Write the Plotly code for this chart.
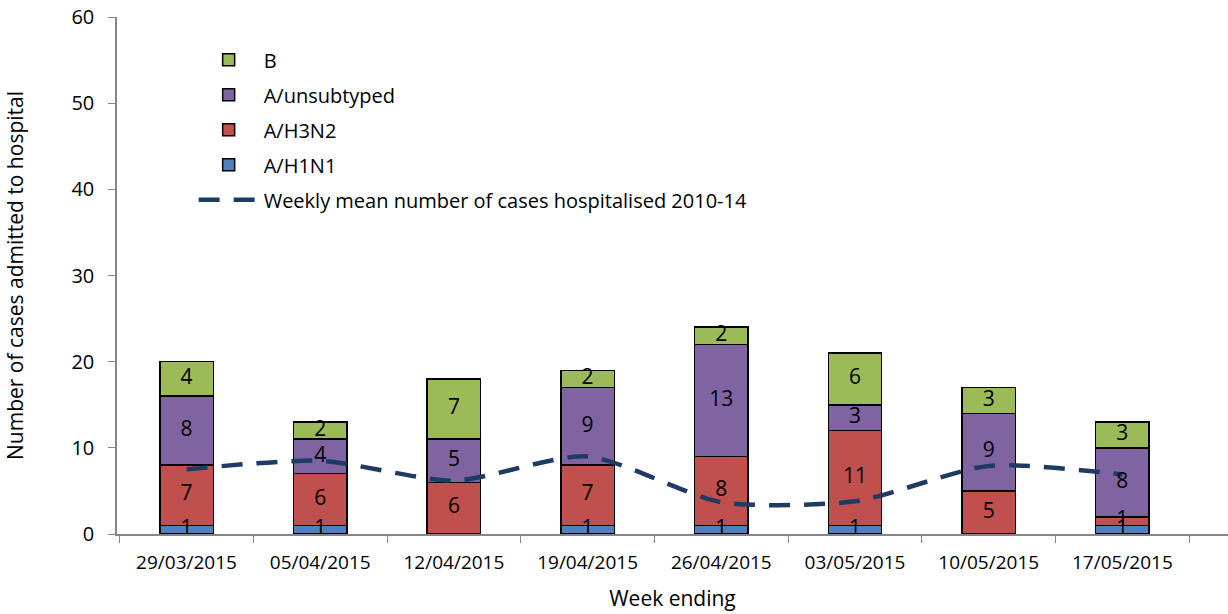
import plotly.graph_objects as go

weeks = ["29/03/2015", "05/04/2015", "12/04/2015", "19/04/2015",
         "26/04/2015", "03/05/2015", "10/05/2015", "17/05/2015"]
h1n1 = [1, 1, 0, 1, 1, 1, 0, 1]
h3n2 = [7, 6, 6, 7, 8, 11, 5, 1]
unsub = [8, 4, 5, 9, 13, 3, 9, 8]
flu_b = [4, 2, 7, 2, 2, 6, 3, 3]
mean_2010_14 = [7.5, 8.5, 6.2, 9.0, 3.7, 3.8, 7.9, 6.9]

FONT = "Open Sans"

fig = go.Figure()
series = [
    ("A/H1N1", h1n1, "#4F81BD", 4),
    ("A/H3N2", h3n2, "#C0504D", 3),
    ("A/unsubtyped", unsub, "#8064A2", 2),
    ("B", flu_b, "#9BBB59", 1),
]
for name, vals, col, rank in series:
    fig.add_trace(go.Bar(
        x=weeks, y=vals, name=name, marker=dict(color=col, line=dict(color="black", width=1.5)),
        textposition="none", legendrank=rank, legendgroup=name, width=0.4,
    ))

fig.add_trace(go.Scatter(
    x=weeks, y=mean_2010_14, name="Weekly mean number of cases hospitalised 2010-14",
    mode="lines", line=dict(color="#1F3B64", width=4.5, dash="21px,14px", shape="spline", smoothing=0.7),
    legendrank=5, legendgroup="mean",
))

# data labels, centred in each stacked segment, drawn on top of the bars
lab_x, lab_y, lab_t = [], [], []
for i, w in enumerate(weeks):
    base = 0
    for _, vals, _, _ in series:
        v = vals[i]
        if v:
            lab_x.append(w)
            lab_y.append(base + v / 2)
            lab_t.append(str(v))
        base += v
fig.add_trace(go.Scatter(
    x=lab_x, y=lab_y, text=lab_t, mode="text", showlegend=False, hoverinfo="skip",
    textfont=dict(size=21, color="black", family=FONT), cliponaxis=False,
))

fig.update_layout(
    barmode="stack",
    width=1228, height=614,
    margin=dict(l=117, r=0, t=17, b=80),
    plot_bgcolor="white", paper_bgcolor="white",
    font=dict(family=FONT, size=20, color="black"),
    showlegend=True,
    legend=dict(x=0.069, y=0.955, xanchor="left", yanchor="top", bgcolor="rgba(0,0,0,0)",
                font=dict(size=20, family=FONT), tracegroupgap=6, itemwidth=60),
    xaxis=dict(title=dict(text="Week ending", font=dict(size=21), standoff=18), range=[-0.52, 7.79],
               showline=True, linecolor="#868686", linewidth=1.5, ticks="outside",
               tickson="boundaries", ticklen=7, tickcolor="#868686", automargin=False,
               tickfont=dict(size=19), showgrid=False, ticklabelstandoff=10),
    yaxis=dict(title=dict(text="Number of cases admitted to hospital", font=dict(size=21), standoff=42),
               range=[0, 60], dtick=10, showline=True, linecolor="#868686", linewidth=1.5,
               ticks="outside", ticklen=7, tickcolor="#868686", tickfont=dict(size=20),
               showgrid=False, zeroline=False, automargin=False, ticklabelstandoff=10),
)

fig.write_html("out.html", config={"displayModeBar": False},
               post_script="document.body.style.margin='0';")
